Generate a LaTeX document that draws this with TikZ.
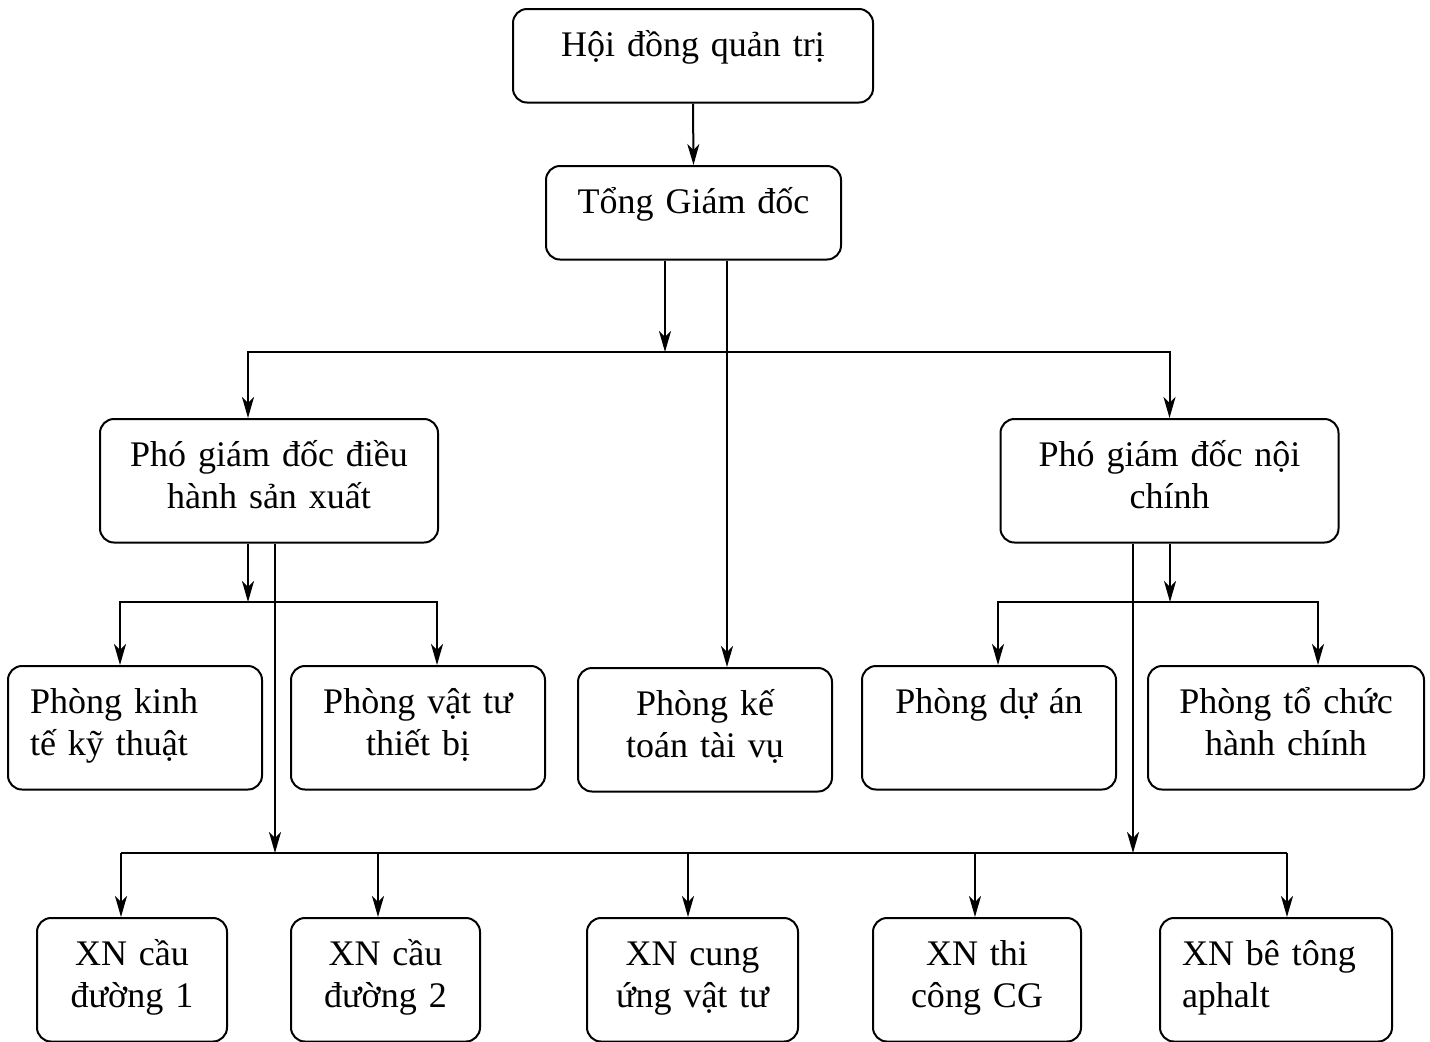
\documentclass[tikz,border=0pt]{standalone}
\usepackage{fontspec}
\setmainfont{Liberation Serif}
\usetikzlibrary{arrows.meta,positioning}
\tikzstyle{box}=[draw, line width=1pt, rounded corners=7pt, anchor=north, inner ysep=0pt, inner xsep=11pt, align=center, text height=23.5pt, font=\fontsize{18pt}{21.25pt}\selectfont]
\tikzstyle{short}=[text depth=23.25pt]
\tikzstyle{tall}=[text depth=38.25pt]
\tikzstyle{arrow}=[line width=1pt,-{Stealth[length=10.5pt,width=6pt,inset=3pt]}]
\tikzstyle{line}=[line width=1pt]

\begin{document}
\begin{tikzpicture}[x=0.5pt,y=-0.5pt]
\useasboundingbox (0,0) rectangle (1430,1041);
\node (hdqt) [box,short,text width=158pt] at (693,8) {Hội đồng quản trị};
\node (tgd) [box,short,text width=125.5pt] at (693.5,165) {Tổng Giám đốc};
\draw[arrow] (hdqt.south) -- (tgd.north);

\node (pgdsx) [box,tall,text width=147pt] at (269,418) {Phó giám đốc điều\\hành sản xuất};
\node (pgdnc) [box,tall,text width=147pt] at (1169.5,418) {Phó giám đốc nội\\chính};

\node (ktkt) [box,tall,align=left,text width=105pt] at (135,665) {Phòng kinh\\tế kỹ thuật};
\node (vttb) [box,tall,text width=105pt] at (418,665) {Phòng vật tư\\thiết bị};
\node (ktvt) [box,tall,text width=105pt] at (705,667) {Phòng kế\\toán tài vụ};
\node (pda) [box,tall,text width=105pt] at (989,665) {Phòng dự án};
\node (tchc) [box,tall,text width=116pt] at (1286,665) {Phòng tổ chức\\hành chính};

\node (xn1) [box,tall,text width=73pt] at (132,917) {XN cầu\\đường 1};
\node (xn2) [box,tall,text width=72.5pt] at (385.5,917) {XN cầu\\đường 2};
\node (xncu) [box,tall,text width=83.5pt] at (692.5,917) {XN cung\\ứng vật tư};
\node (xntc) [box,tall,text width=82pt] at (977,917) {XN thi\\công CG};
\node (xnbt) [box,tall,align=left,text width=94pt] at (1276,917) {XN bê tông\\aphalt};

\coordinate (bus1) at (665,352);
\draw[arrow] (tgd.south-|bus1) -- (bus1);
\draw[arrow] (bus1) -| ([xshift=-10.5pt]pgdsx.north);
\draw[arrow] (bus1) -| (pgdnc.north);
\draw[arrow] ([xshift=11pt]ktvt.north|-tgd.south) -- ([xshift=11pt]ktvt.north);

\coordinate (bus2) at (248,602);
\draw[arrow] (pgdsx.south-|bus2) -- (bus2);
\draw[arrow] (bus2) -| ([xshift=-7.5pt]ktkt.north);
\draw[arrow] (bus2) -| ([xshift=9.5pt]vttb.north);

\coordinate (bus3) at (1170,602);
\draw[arrow] (pgdnc.south-|bus3) -- (bus3);
\draw[arrow] (bus3) -| ([xshift=4.5pt]pda.north);
\draw[arrow] (bus3) -| ([xshift=16pt]tchc.north);

\coordinate (bus4) at (275,853);
\coordinate (bus5) at (1133,853);
\draw[arrow] (pgdsx.south-|bus4) -- (bus4);
\draw[arrow] (pgdnc.south-|bus5) -- (bus5);
\draw[line] ([xshift=-5.5pt]xn1.north|-bus4) -- ([xshift=5.5pt]xnbt.north|-bus4);
\draw[arrow] ([xshift=-5.5pt]xn1.north|-bus4) -- ([xshift=-5.5pt]xn1.north);
\draw[arrow] ([xshift=-3.75pt]xn2.north|-bus4) -- ([xshift=-3.75pt]xn2.north);
\draw[arrow] ([xshift=-2.25pt]xncu.north|-bus4) -- ([xshift=-2.25pt]xncu.north);
\draw[arrow] ([xshift=-1pt]xntc.north|-bus4) -- ([xshift=-1pt]xntc.north);
\draw[arrow] ([xshift=5.5pt]xnbt.north|-bus4) -- ([xshift=5.5pt]xnbt.north);

\end{tikzpicture}
\end{document}
